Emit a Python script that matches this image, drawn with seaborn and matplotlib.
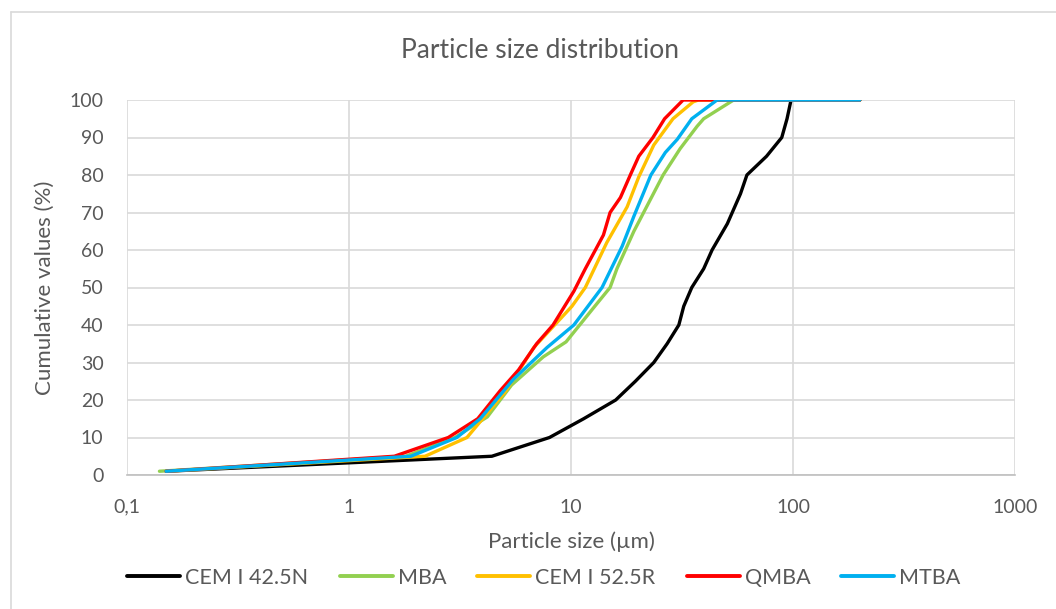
import numpy as np
import pandas as pd
import matplotlib
matplotlib.use("Agg")
import matplotlib.pyplot as plt
import seaborn as sns
from matplotlib.lines import Line2D
from matplotlib.ticker import FixedLocator, FixedFormatter, NullLocator

# ---- data ----
cem425_size = [0.15, 4.4, 8.0, 11.4, 15.9, 19.5, 23.6, 27.1, 30.6, 32.2, 35.0, 39.6, 43.2, 50.6, 58.0, 62.0, 76.0, 89.0, 94.0, 98.0, 200.0]
cem425_cum  = [1, 5, 10, 15, 20, 25, 30, 35, 40, 45, 50, 55, 60, 67, 75, 80, 85, 90, 95, 100, 100]

mba_size = [0.14, 1.8, 3.0, 4.2, 5.4, 7.5, 9.5, 12.8, 15.0, 16.1, 19.2, 26.0, 31.0, 37.0, 39.6, 54.0, 200.0]
mba_cum  = [1, 5, 10, 15.5, 24, 31.5, 35.5, 45, 50, 55, 65, 80, 87, 93, 95, 100, 100]

cem525_size = [0.15, 2.2, 3.4, 4.0, 5.1, 6.8, 10.1, 11.6, 14.5, 17.9, 20.2, 23.6, 28.8, 35.5, 37.5, 200.0]
cem525_cum  = [1, 5, 10, 15, 22.5, 34, 45, 50, 62, 71.5, 79.5, 88, 95, 99.5, 100, 100]

qmba_size = [0.15, 1.6, 2.8, 3.8, 4.8, 5.8, 7.0, 8.3, 10.3, 11.6, 14.0, 15.0, 16.7, 18.5, 20.2, 23.4, 26.4, 32.0, 200.0]
qmba_cum  = [1, 5, 10, 15, 22.5, 28, 35, 40, 49, 55, 64, 70, 74, 80, 85, 90, 95, 100, 100]

mtba_size = [0.15, 1.9, 3.06, 3.9, 5.5, 7.8, 10.3, 13.8, 17.0, 19.2, 22.9, 26.6, 30.1, 35.0, 45.5, 200.0]
mtba_cum  = [1, 5, 10, 15, 25.5, 34, 40, 50, 61, 69, 80, 86, 89.5, 95, 100, 100]

series_names = ["CEM I 42.5N", "MBA", "CEM I 52.5R", "QMBA", "MTBA"]
series_colors = ["#000000", "#92D050", "#FFC000", "#FF0000", "#00B0F0"]
x_ticks = [0.1, 1, 10, 100, 1000]
x_tick_labels = ["0,1", "1", "10", "100", "1000"]
y_ticks = list(range(0, 101, 10))

sizes = [cem425_size, mba_size, cem525_size, qmba_size, mtba_size]
cums = [cem425_cum, mba_cum, cem525_cum, qmba_cum, mtba_cum]

rows = []
for name, s, c in zip(series_names, sizes, cums):
    for xs, ys in zip(s, c):
        rows.append({"sample": name, "size": xs, "cum": ys})
df = pd.DataFrame(rows)

# ---- plot ----
sns.set_theme(style="white")
plt.rcParams['font.family'] = ['Lato', 'DejaVu Sans']
text_color = "#595959"

fig = plt.figure(figsize=(10.56, 6.09), dpi=100)
ax = fig.add_axes([127/1056, 1 - 475/609, (1015 - 127)/1056, (475 - 100)/609])

ax.set_xscale("log")
sns.lineplot(data=df, x="size", y="cum", hue="sample", hue_order=series_names,
             palette=dict(zip(series_names, series_colors)), sort=False,
             estimator=None, linewidth=2.4, ax=ax, legend=False)

ax.set_xlim(0.1, 1000)
ax.set_ylim(0, 100)
ax.xaxis.set_major_locator(FixedLocator(x_ticks))
ax.xaxis.set_major_formatter(FixedFormatter(x_tick_labels))
ax.xaxis.set_minor_locator(NullLocator())
ax.set_yticks(y_ticks)
ax.grid(True, color="#D9D9D9", linewidth=1.2)
ax.set_axisbelow(True)
for side in ["top", "right", "left"]:
    ax.spines[side].set_visible(False)
ax.spines["bottom"].set_color("#BFBFBF")
ax.spines["bottom"].set_linewidth(1.2)
ax.tick_params(axis="both", length=0, labelsize=14, colors=text_color)
ax.tick_params(axis="y", pad=17)
ax.tick_params(axis="x", pad=17)

ax.set_xlabel("Particle size (µm)", fontsize=16, color=text_color, va="center")
ax.xaxis.set_label_coords(0.5, (475 - 542) / 375)
ax.set_ylabel("Cumulative values (%)", fontsize=16, color=text_color, va="center")
ax.yaxis.set_label_coords((45 - 127) / 888, 0.5)

fig.text(540/1056, 1 - 50/609, "Particle size distribution", ha="center", va="center",
         fontsize=19, color=text_color)

handles = [Line2D([0], [0], color=c, linewidth=2.8) for c in series_colors]
fig.legend(handles, series_names, loc="center", bbox_to_anchor=(544/1056, 1 - 578/609),
           ncol=5, frameon=False, fontsize=15.5, handlelength=2.46, columnspacing=1.45,
           handletextpad=0.23, labelcolor=text_color, borderpad=0, borderaxespad=0)

# chart-area border (left and top visible)
fig.add_artist(Line2D([11/1056, 11/1056], [0, 1 - 12/609], transform=fig.transFigure,
                      color="#D9D9D9", linewidth=1.2))
fig.add_artist(Line2D([11/1056, 1], [1 - 12/609, 1 - 12/609], transform=fig.transFigure,
                      color="#D9D9D9", linewidth=1.2))

fig.savefig("out.png", dpi=100)
